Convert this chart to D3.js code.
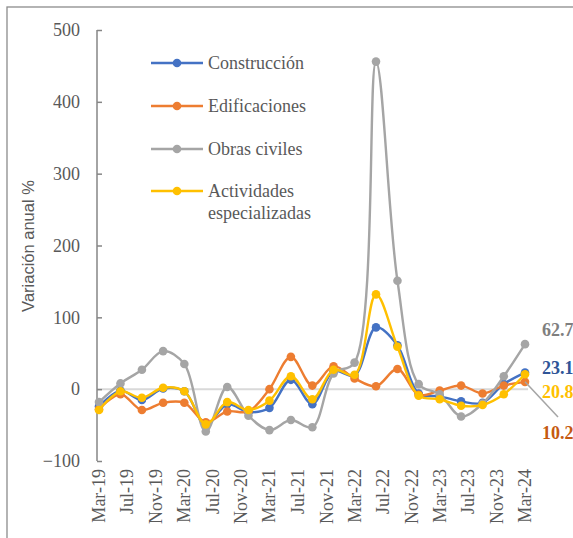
<!DOCTYPE html>
<html>
<head>
<meta charset="utf-8">
<script src="https://cdn.jsdelivr.net/npm/d3@7"></script>
<style>
  html, body { margin: 0; padding: 0; background: #fff; }
  svg { display: block; }
  .serif { font-family: "Liberation Serif", "Tinos", "Times New Roman", "DejaVu Serif", serif; }
  .sans { font-family: "Liberation Sans", Arial, "DejaVu Sans", sans-serif; }
</style>
</head>
<body>
<svg id="chart" width="573" height="538"></svg>
<script>
// Quarterly periods (annual % change)
const periods = ["Mar-19","Jun-19","Sep-19","Dec-19","Mar-20","Jun-20","Sep-20","Dec-20",
  "Mar-21","Jun-21","Sep-21","Dec-21","Mar-22","Jun-22","Sep-22","Dec-22",
  "Mar-23","Jun-23","Sep-23","Dec-23","Mar-24"];

const construccion  = [-24, -2, -15, 1, -3, -50, -21, -32, -26, 13, -21, 25, 19, 86, 61, -6, -10, -17, -19, 7, 23.1];
const edificaciones = [-28, -7, -29, -19, -19, -46, -31, -31, 0, 45, 5, 32, 15, 4, 28, -8, -2, 5, -6, 5, 10.2];
const obrasCiviles  = [-18, 8, 27, 53, 35, -59, 3, -37, -57, -43, -53, 22, 37, 456, 151, 7, -7, -38, -20, 18, 62.7];
const actividades   = [-29, -3, -12, 2, -3, -49, -18, -29, -16, 18, -14, 27, 20, 132, 59, -9, -14, -23, -22, -7, 20.8];

const seriesNames  = ["Construcción", "Edificaciones", "Obras civiles", "Actividades especializadas"];
const seriesColors = ["#4472C4", "#ED7D31", "#A5A5A5", "#FFC000"];
const labelColors  = ["#2F5597", "#C55A11", "#7F7F7F", "#FFC000"];

// Axis ticks
const xTickLabels = ["Mar-19","Jul-19","Nov-19","Mar-20","Jul-20","Nov-20","Mar-21","Jul-21",
  "Nov-21","Mar-22","Jul-22","Nov-22","Mar-23","Jul-23","Nov-23","Mar-24"];
const yTicks = [-100, 0, 100, 200, 300, 400, 500];

const parse = d3.timeParse("%b-%y");
const allSeries = [construccion, edificaciones, obrasCiviles, actividades];

const svg = d3.select("#chart");

// outer frame
svg.append("rect")
  .attr("x", 7).attr("y", 7).attr("width", 580).attr("height", 545)
  .attr("fill", "none").attr("stroke", "#8C8C8C").attr("stroke-width", 1.3);

const x = d3.scaleTime()
  .domain([parse("Mar-19"), parse("Mar-24")])
  .range([99, 525]);
const y = d3.scaleLinear().domain([-100, 500]).range([461, 30]);

const textGray = "#595959";

// zero line (horizontal axis)
svg.append("line")
  .attr("x1", 97).attr("x2", 528)
  .attr("y1", y(0)).attr("y2", y(0))
  .attr("stroke", "#D9D9D9").attr("stroke-width", 2);

// vertical axis
const yAxis = d3.axisLeft(y).tickValues(yTicks).tickSize(-5).tickPadding(17)
  .tickFormat(d3.format("d"));
const gy = svg.append("g").attr("transform", "translate(97,0)").call(yAxis);
gy.attr("font-family", null).attr("font-size", null);
gy.select(".domain").attr("stroke", "#868686").attr("stroke-width", 1.5)
  .attr("d", `M0,${y(-100)}V${y(500)}`);
gy.selectAll(".tick line").attr("stroke", "#868686").attr("stroke-width", 1.5);
gy.selectAll(".tick text")
  .attr("class", "serif")
  .attr("fill", textGray).attr("font-size", 18);

// horizontal axis labels (rotated)
const gx = svg.append("g");
gx.selectAll("text").data(xTickLabels).join("text")
  .attr("class", "serif")
  .attr("transform", d => `translate(${x(parse(d))},469) rotate(-90)`)
  .attr("text-anchor", "end")
  .attr("dy", "0.33em")
  .attr("fill", textGray).attr("font-size", 18)
  .text(d => d);

// axis title
svg.append("text")
  .attr("class", "sans")
  .attr("transform", "translate(28,246) rotate(-90)")
  .attr("text-anchor", "middle").attr("dy", "0.35em")
  .attr("fill", textGray)
  .attr("font-size", 16.5)
  .text("Variación anual %");

// series
const line = d3.line()
  .x((d, i) => x(parse(periods[i])))
  .y(d => y(d))
  .curve(d3.curveCatmullRom.alpha(0.5));

allSeries.forEach((vals, s) => {
  const g = svg.append("g");
  g.append("path").datum(vals)
    .attr("d", line)
    .attr("fill", "none")
    .attr("stroke", seriesColors[s])
    .attr("stroke-width", 2.4)
    .attr("stroke-linejoin", "round");
  g.selectAll("circle").data(vals).join("circle")
    .attr("cx", (d, i) => x(parse(periods[i])))
    .attr("cy", d => y(d))
    .attr("r", 4.3)
    .attr("fill", seriesColors[s]);
});

// end-of-series value labels
const lastX = x(parse(periods[periods.length - 1]));
const labelY = [374, 439, 336, 398]; // baseline per series
// leader line for Edificaciones label
svg.append("line")
  .attr("x1", lastX).attr("y1", y(edificaciones[edificaciones.length - 1]))
  .attr("x2", 558).attr("y2", 417)
  .attr("stroke", "#A5A5A5").attr("stroke-width", 1.5);

allSeries.forEach((vals, s) => {
  svg.append("text")
    .attr("class", "serif")
    .attr("x", 542).attr("y", labelY[s])
    .attr("fill", labelColors[s])
    .attr("font-weight", "bold").attr("font-size", 18)
    .text(d3.format(".1f")(vals[vals.length - 1]));
});

// legend
const legendY = [63, 106, 149, 191];
seriesNames.forEach((name, s) => {
  const g = svg.append("g");
  g.append("line").attr("x1", 151).attr("x2", 203)
    .attr("y1", legendY[s]).attr("y2", legendY[s])
    .attr("stroke", seriesColors[s]).attr("stroke-width", 2.4);
  g.append("circle").attr("cx", 177).attr("cy", legendY[s]).attr("r", 4.3)
    .attr("fill", seriesColors[s]);
  const t = g.append("text").attr("class", "serif").attr("x", 208).attr("y", legendY[s])
    .attr("fill", textGray).attr("font-size", 18);
  if (name === "Actividades especializadas") {
    t.append("tspan").attr("x", 208).attr("dy", "0.33em").text("Actividades");
    t.append("tspan").attr("x", 208).attr("dy", 22).text("especializadas");
  } else {
    t.attr("dy", "0.33em").text(name);
  }
});
</script>
</body>
</html>
